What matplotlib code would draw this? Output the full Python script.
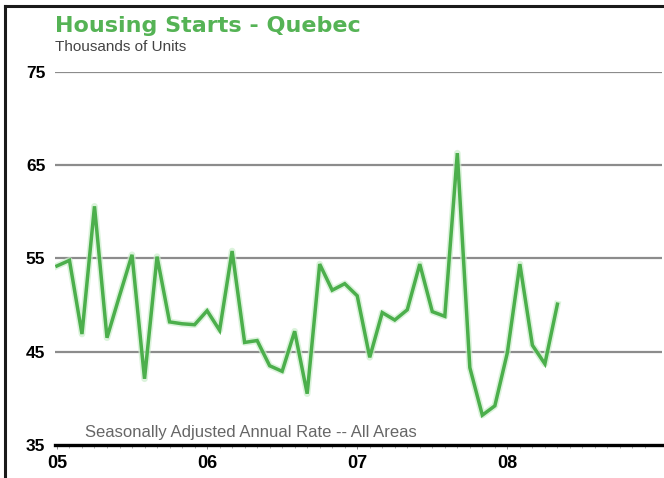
import numpy as np
import matplotlib
matplotlib.use("Agg")
from matplotlib import pyplot as plt
from matplotlib.lines import Line2D

# monthly housing starts, Jan 2005 - May 2008 (thousands, SAAR)
start_year = 2005
starts = [
    54.2, 54.8, 46.9, 60.6, 46.5, 51.0, 55.4, 42.1, 55.2, 48.2, 48.0, 47.9,
    49.4, 47.3, 55.8, 46.0, 46.2, 43.5, 42.9, 47.2, 40.5, 54.4, 51.6, 52.3,
    51.0, 44.4, 49.2, 48.4, 49.5, 54.4, 49.3, 48.8, 66.3, 43.3, 38.2, 39.2,
    44.9, 54.4, 45.7, 43.7, 50.1,
]
year_ticks = [2005, 2006, 2007, 2008]
year_labels = ["05", "06", "07", "08"]
y_ticks = [35, 45, 55, 65, 75]

green = "#4caf4c"
x = start_year + np.arange(len(starts)) / 12.0

fig = plt.figure(figsize=(6.64, 4.78), dpi=100)
ax = fig.add_axes([55 / 664, 1 - 445 / 478, 607 / 664, 373 / 478])

# gridlines
for v in y_ticks[1:]:
    ax.axhline(v, color="#8c8c8c", lw=1.6, zorder=1)
ax.axhline(35, color="black", lw=2.4, zorder=3, clip_on=False)

# soft glow + line
ax.plot(x, starts, color="#cdeecd", lw=4.8, alpha=0.7, solid_joinstyle="round", zorder=2)
ax.plot(x, starts, color=green, lw=2.5, solid_joinstyle="miter", zorder=4)

ax.set_xlim(start_year - 0.013, 2009.03)
ax.set_ylim(35, 75)
for sp in ax.spines.values():
    sp.set_visible(False)

ax.set_yticks(y_ticks)
ax.set_yticklabels([str(v) for v in y_ticks])
ax.set_xticks(year_ticks)
ax.set_xticklabels(year_labels)
ax.set_xticks(start_year + np.arange(48) / 12.0, minor=True)
ax.tick_params(axis="y", length=0, pad=7)
ax.tick_params(axis="x", which="major", length=3, width=0.6, color="#777777", pad=4)
ax.tick_params(axis="x", which="minor", length=2, width=0.5, color="#888888")
for lab in ax.get_yticklabels():
    lab.set_family(["Liberation Sans", "DejaVu Sans"])
    lab.set_fontweight("bold")
    lab.set_fontsize(12.5)
for lab in ax.get_xticklabels():
    lab.set_family(["Liberation Sans", "DejaVu Sans"])
    lab.set_fontweight("bold")
    lab.set_fontsize(13)

fig.text(55 / 664, 1 - 26 / 478, "Housing Starts - Quebec", color="#55b355",
         fontsize=16, fontweight="bold", va="center", ha="left",
         family=["DejaVu Sans"])
fig.text(55 / 664, 1 - 47 / 478, "Thousands of Units", color="#444444",
         fontsize=11, va="center", ha="left", family=["Liberation Sans"])
fig.text(85 / 664, 1 - 432 / 478, "Seasonally Adjusted Annual Rate -- All Areas",
         color="#666666", fontsize=12, va="center", ha="left",
         family=["Liberation Sans"])

# frame on top and left
fig.add_artist(Line2D([5 / 664, 1], [1 - 6 / 478] * 2, color="#1a1a1a", lw=2.2))
fig.add_artist(Line2D([5 / 664] * 2, [0, 1 - 6 / 478], color="#1a1a1a", lw=2.2))

fig.savefig("out.png", dpi=100)
